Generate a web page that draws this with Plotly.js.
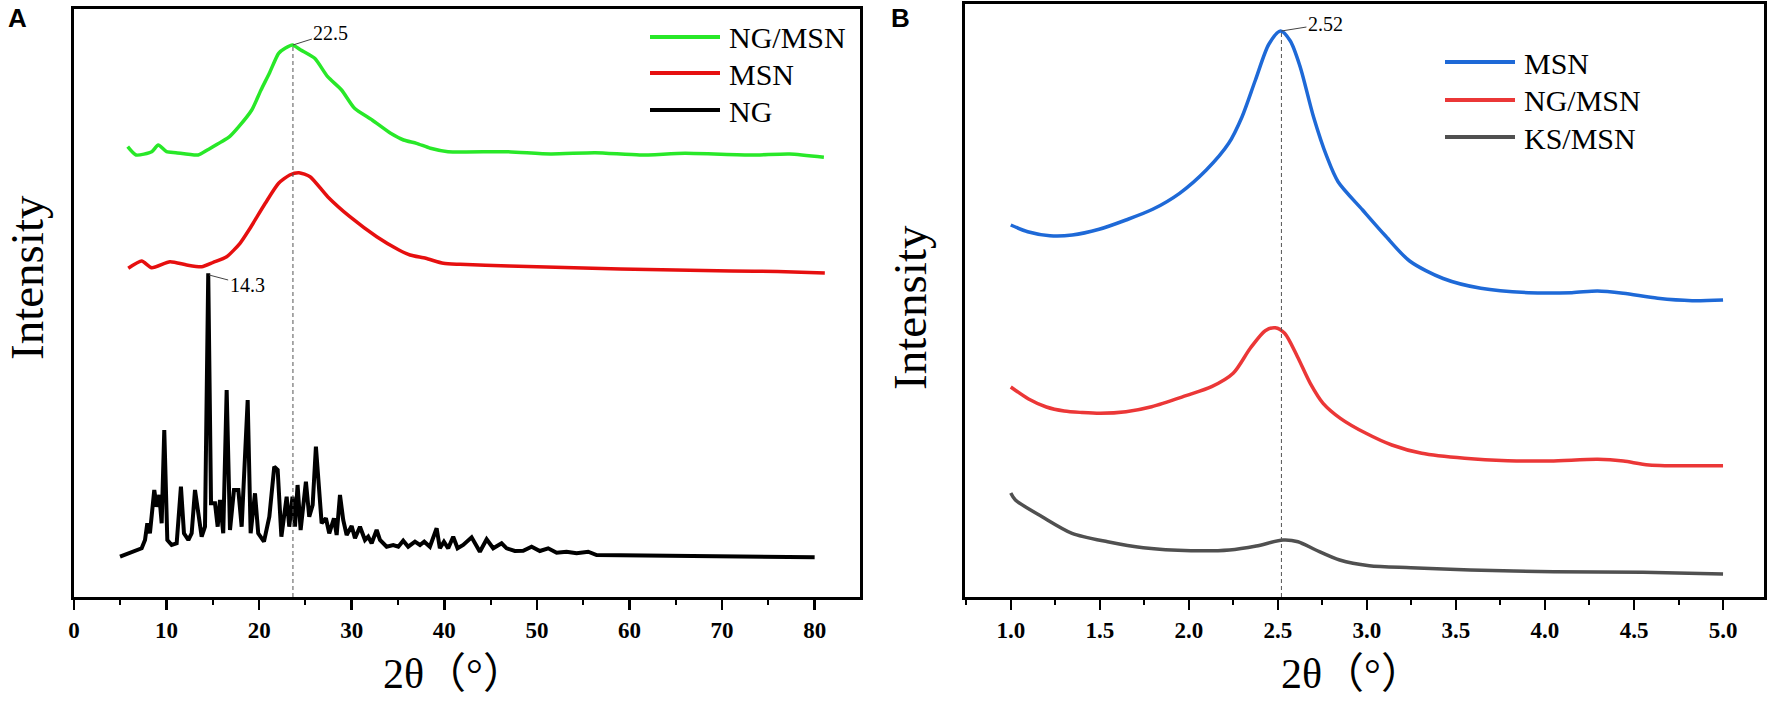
<!DOCTYPE html>
<html>
<head>
<meta charset="utf-8">
<script src="https://cdn.plot.ly/plotly-3.0.1.min.js"></script>
<style>html,body{margin:0;padding:0;background:#fff;}#chart{width:1772px;height:705px;}</style>
</head>
<body>
<div id="chart"></div>
<script>
// ---------- Panel A data (2θ in degrees, intensity in arbitrary units) ----------
const namesA = ['NG/MSN', 'MSN', 'NG'];
const ngmsnA_x = [5.8, 6.7, 8.4, 9.1, 10.0, 11.0, 13.4, 14.4, 16.8, 17.8, 19.2, 20.2, 21.1, 22.1, 22.8, 23.6, 24.5, 26.0, 27.4, 28.9, 30.3, 32.2, 34.2, 35.6, 37.0, 38.5, 40.4, 46.7, 51.5, 56.3, 61.1, 66.0, 73.2, 77.3, 81.0];
const ngmsnA_y = [450.3, 442, 445.3, 452, 445.3, 444.3, 442, 447, 460.3, 470.3, 487, 507, 523.7, 543.7, 548.7, 552, 547, 538.7, 520.3, 507, 488.7, 477, 463.7, 457, 453.7, 448.7, 445.3, 445.3, 443, 444.3, 442, 443.7, 442, 443, 439.7];
const msnA_x = [5.86, 7.31, 8.39, 10.37, 12.17, 13.79, 15.04, 16.49, 17.93, 19.0, 20.66, 22.1, 23.3, 24.3, 25.5, 27.4, 29.8, 32.7, 35.1, 36.3, 38.0, 39.9, 41.7, 47, 53, 59, 65, 71, 76, 81.1];
const msnA_y = [328.7, 336, 329.3, 335.3, 332, 330.3, 334.7, 340.3, 353.7, 368.5, 393.7, 413.7, 422, 424.3, 420.3, 400.3, 380.3, 360.3, 347, 342, 338.7, 333.7, 332.7, 331, 329.5, 328, 327, 326, 325.5, 324];
const ngA_x = [4.97, 6.05, 7.31, 7.67, 7.92, 8.2, 8.67, 8.93, 9.21, 9.47, 9.75, 10.08, 10.55, 11.09, 11.55, 11.88, 12.35, 12.71, 13.07, 13.43, 13.79, 14.15, 14.5, 14.8, 15.23, 15.52, 15.77, 16.12, 16.49, 16.85, 17.28, 17.75, 18.11, 18.76, 19.08, 19.55, 19.9, 20.52, 21.1, 21.63, 22.0, 22.4, 22.97, 23.25, 23.6, 23.87, 24.15, 24.48, 25.05, 25.41, 25.78, 26.13, 26.49, 26.75, 27.21, 27.57, 28.08, 28.37, 28.73, 29.08, 29.45, 29.99, 30.35, 30.89, 31.43, 31.78, 32.15, 32.69, 33.05, 33.77, 34.48, 35.03, 35.56, 36.1, 36.83, 37.37, 37.83, 38.44, 39.17, 39.52, 39.96, 40.42, 40.96, 41.43, 42.04, 42.95, 43.84, 44.57, 45.28, 46.19, 46.73, 47.62, 48.52, 49.43, 50.32, 51.22, 52.13, 53.2, 54.29, 55.54, 56.45, 59.69, 63.3, 66.9, 70.5, 74.1, 77.7, 80.0];
const ngA_y = [40.3, 43.7, 48.7, 57, 73.7, 63.7, 107, 90.3, 102, 73.7, 167, 57, 52, 53.7, 110.3, 63.7, 57, 63.7, 107, 83.7, 60.3, 70.3, 323.7, 93.7, 93.7, 70.3, 97, 63.7, 207, 67, 107, 107, 70.3, 197, 63.7, 103.7, 63.7, 55.3, 80.3, 130.3, 127, 60.3, 100.3, 70.3, 100.3, 70.3, 112, 67, 115.3, 80.3, 92, 150.3, 102, 73.7, 78.7, 63.7, 78.7, 62, 102, 77, 62, 71, 58.7, 70.3, 57, 60.3, 53.7, 67, 57, 50.3, 52, 50.3, 56.3, 50.3, 55.3, 52, 55.3, 50.3, 68.7, 48.7, 55.3, 48.7, 60.3, 48.7, 52, 59.7, 45.3, 57.7, 48.7, 53.7, 48.7, 46, 46.3, 50.3, 46, 48.7, 44.3, 45.3, 43.7, 45.3, 42, 41.7, 41.3, 40.3, 39.7, 39.7, 39.7, 39.7];
const ticksA = [0, 10, 20, 30, 40, 50, 60, 70, 80];
const tickTextA = ['0', '10', '20', '30', '40', '50', '60', '70', '80'];
const peakA_marker = {x: 23.65, y: 552, label: '22.5'};
const peakA_ng = {x: 14.6, y: 322, label: '14.3'};

// ---------- Panel B data ----------
const namesB = ['MSN', 'NG/MSN', 'KS/MSN'];
const msnB_x = [1.0, 1.095, 1.22, 1.345, 1.496, 1.647, 1.797, 1.948, 2.098, 2.224, 2.299, 2.374, 2.45, 2.515, 2.57, 2.625, 2.70, 2.775, 2.838, 2.976, 3.1, 3.24, 3.428, 3.64, 3.907, 4.151, 4.295, 4.44, 4.633, 4.826, 5.0];
const msnB_y = [372, 365.3, 361.3, 362, 367.7, 377, 387.7, 403.7, 427, 453.7, 480.3, 517, 553, 566, 556, 530.3, 480.3, 440.3, 415.3, 387, 362, 336, 318.5, 308.7, 304.3, 304.3, 306, 303.7, 298.7, 296.3, 297];
const ngmsnB_x = [1.0, 1.1, 1.2, 1.3, 1.4, 1.503, 1.647, 1.791, 1.984, 2.128, 2.249, 2.345, 2.429, 2.485, 2.538, 2.61, 2.682, 2.754, 2.851, 2.995, 3.14, 3.308, 3.549, 3.79, 4.03, 4.296, 4.44, 4.584, 5.0];
const ngmsnB_y = [210, 198, 190, 186, 184.5, 183.7, 185.3, 190.3, 201.3, 210.3, 223.7, 248.7, 266.3, 269.3, 263.7, 240.3, 213.7, 193.7, 178.7, 163.7, 152, 143.7, 138.7, 136.3, 136, 137.7, 136, 132, 131.3];
const ksmsnB_x = [1.0, 1.026, 1.176, 1.344, 1.544, 1.744, 2.012, 2.228, 2.379, 2.529, 2.613, 2.713, 2.847, 3.013, 3.247, 3.581, 4.049, 4.55, 5.0];
const ksmsnB_y = [104, 97, 80.3, 63.7, 55.3, 49.3, 46.3, 47, 51, 57, 55.3, 47, 37, 31.3, 29.3, 27, 25.3, 24.7, 23];
const ticksB = [1.0, 1.5, 2.0, 2.5, 3.0, 3.5, 4.0, 4.5, 5.0];
const tickTextB = ['1.0', '1.5', '2.0', '2.5', '3.0', '3.5', '4.0', '4.5', '5.0'];
const peakB_marker = {x: 2.52, y: 566, label: '2.52'};

// ---------- styling ----------
const W = 1772, H = 705;
const SERIF = 'Liberation Serif, Times New Roman, Noto Sans CJK SC, serif';
const SANS = 'Liberation Sans, Arial, sans-serif';
const colA = ['rgb(40,232,40)', 'rgb(230,15,15)', 'rgb(0,0,0)'];
const colB = ['rgb(30,105,215)', 'rgb(235,55,55)', 'rgb(80,80,80)'];
const px = x => x / W;
const py = y => 1 - y / H;

const traces = [
  {x: ngmsnA_x, y: ngmsnA_y, name: namesA[0], xaxis: 'x', yaxis: 'y', mode: 'lines', line: {color: colA[0], width: 3.5, shape: 'spline', smoothing: 0.6}},
  {x: msnA_x, y: msnA_y, name: namesA[1], xaxis: 'x', yaxis: 'y', mode: 'lines', line: {color: colA[1], width: 3.5, shape: 'spline', smoothing: 0.6}},
  {x: ngA_x, y: ngA_y, name: namesA[2], xaxis: 'x', yaxis: 'y', mode: 'lines', line: {color: colA[2], width: 4}},
  {x: msnB_x, y: msnB_y, name: namesB[0], xaxis: 'x2', yaxis: 'y2', mode: 'lines', line: {color: colB[0], width: 3.5, shape: 'spline', smoothing: 0.8}},
  {x: ngmsnB_x, y: ngmsnB_y, name: namesB[1], xaxis: 'x2', yaxis: 'y2', mode: 'lines', line: {color: colB[1], width: 3.5, shape: 'spline', smoothing: 0.8}},
  {x: ksmsnB_x, y: ksmsnB_y, name: namesB[2], xaxis: 'x2', yaxis: 'y2', mode: 'lines', line: {color: colB[2], width: 3.5, shape: 'spline', smoothing: 0.8}}
];

const tickFont = {family: 'Liberation Serif, serif', size: 23, color: 'black'};
const bold = arr => arr.map(t => '<b>' + t + '</b>');
function xAxis(domain, range, tv, tt, minorTick0, minorDtick, anchor) {
  return {
    domain: domain, range: range, anchor: anchor,
    showline: true, mirror: true, linecolor: 'black', linewidth: 3,
    ticks: 'outside', ticklen: 10, tickwidth: 2.5, tickcolor: 'black',
    tickmode: 'array', tickvals: tv, ticktext: bold(tt), tickfont: tickFont, ticklabelstandoff: 0,
    minor: {tickmode: 'linear', tick0: minorTick0, dtick: minorDtick, ticks: 'outside', ticklen: 5, tickwidth: 2, tickcolor: 'black', showgrid: false},
    showgrid: false, zeroline: false, fixedrange: true
  };
}
function yAxis(domain, range, anchor) {
  return {
    domain: domain, range: range, anchor: anchor,
    showline: true, mirror: true, linecolor: 'black', linewidth: 3,
    ticks: '', showticklabels: false, showgrid: false, zeroline: false, fixedrange: true
  };
}

const shapes = [
  {type: 'line', xref: 'x', yref: 'y', x0: peakA_marker.x, x1: peakA_marker.x, y0: 0, y1: peakA_marker.y, line: {color: '#555', width: 1, dash: '4px,3px'}},
  {type: 'line', xref: 'x2', yref: 'y2', x0: peakB_marker.x, x1: peakB_marker.x, y0: 0, y1: peakB_marker.y, line: {color: '#555', width: 1, dash: '4px,3px'}}
];
const annotations = [];

// custom legends (long line samples as in the reference)
const legA = {x0: 650, x1: 720, tx: 727, ys: [37, 73, 110]};
const legB = {x0: 1445, x1: 1515, tx: 1522, ys: [62, 100, 137]};
[[legA, namesA, colA], [legB, namesB, colB]].forEach(([L, names, cols]) => {
  names.forEach((n, i) => {
    shapes.push({type: 'line', xref: 'paper', yref: 'paper', x0: px(L.x0), x1: px(L.x1), y0: py(L.ys[i]), y1: py(L.ys[i]), line: {color: cols[i], width: 4}});
    annotations.push({xref: 'paper', yref: 'paper', x: px(L.tx), y: py(L.ys[i] + 1), xanchor: 'left', yanchor: 'middle', showarrow: false, text: n, font: {family: SERIF, size: 30, color: 'black'}});
  });
});

// peak labels with leader lines
annotations.push({xref: 'x', yref: 'y', x: peakA_marker.x, y: peakA_marker.y, text: peakA_marker.label, showarrow: true, arrowhead: 0, arrowwidth: 1, arrowcolor: '#444', ax: 38, ay: -12, font: {family: SERIF, size: 20, color: 'black'}});
annotations.push({xref: 'x', yref: 'y', x: peakA_ng.x, y: peakA_ng.y, text: peakA_ng.label, showarrow: true, arrowhead: 0, arrowwidth: 1, arrowcolor: '#444', ax: 38, ay: 10, font: {family: SERIF, size: 20, color: 'black'}});
annotations.push({xref: 'x2', yref: 'y2', x: peakB_marker.x, y: peakB_marker.y, text: peakB_marker.label, showarrow: true, arrowhead: 0, arrowwidth: 1, arrowcolor: '#444', ax: 44, ay: -7, font: {family: SERIF, size: 20, color: 'black'}});

// panel letters and axis titles
annotations.push({xref: 'paper', yref: 'paper', x: px(17), y: py(18), text: '<b>A</b>', showarrow: false, xanchor: 'center', yanchor: 'middle', font: {family: SANS, size: 26, color: 'black'}});
annotations.push({xref: 'paper', yref: 'paper', x: px(900), y: py(18), text: '<b>B</b>', showarrow: false, xanchor: 'center', yanchor: 'middle', font: {family: SANS, size: 26, color: 'black'}});
annotations.push({xref: 'paper', yref: 'paper', x: px(27), y: py(278), text: 'Intensity', textangle: -90, showarrow: false, xanchor: 'center', yanchor: 'middle', font: {family: SERIF, size: 47, color: 'black'}});
annotations.push({xref: 'paper', yref: 'paper', x: px(910), y: py(308), text: 'Intensity', textangle: -90, showarrow: false, xanchor: 'center', yanchor: 'middle', font: {family: SERIF, size: 47, color: 'black'}});
annotations.push({xref: 'paper', yref: 'paper', x: px(454), y: py(674), text: '2θ（°）', showarrow: false, xanchor: 'center', yanchor: 'middle', font: {family: SERIF, size: 42, color: 'black'}});
annotations.push({xref: 'paper', yref: 'paper', x: px(1352), y: py(674), text: '2θ（°）', showarrow: false, xanchor: 'center', yanchor: 'middle', font: {family: SERIF, size: 42, color: 'black'}});

const yBottom = py(597);
const layout = {
  width: W, height: H, autosize: false,
  margin: {l: 0, r: 0, t: 0, b: 0, pad: 0},
  font: {family: SERIF, color: 'black'},
  paper_bgcolor: 'white', plot_bgcolor: 'white', showlegend: false,
  xaxis: xAxis([px(74), px(860)], [0, 84.9], ticksA, tickTextA, 5, 5, 'y'),
  yaxis: yAxis([yBottom, py(9)], [0, 588], 'x'),
  xaxis2: xAxis([px(965), px(1764)], [0.743, 5.23], ticksB, tickTextB, 0.75, 0.25, 'y2'),
  yaxis2: yAxis([yBottom, py(4)], [0, 593], 'x2'),
  shapes: shapes, annotations: annotations
};

Plotly.newPlot('chart', traces, layout, {staticPlot: true, displayModeBar: false});
</script>
</body>
</html>
